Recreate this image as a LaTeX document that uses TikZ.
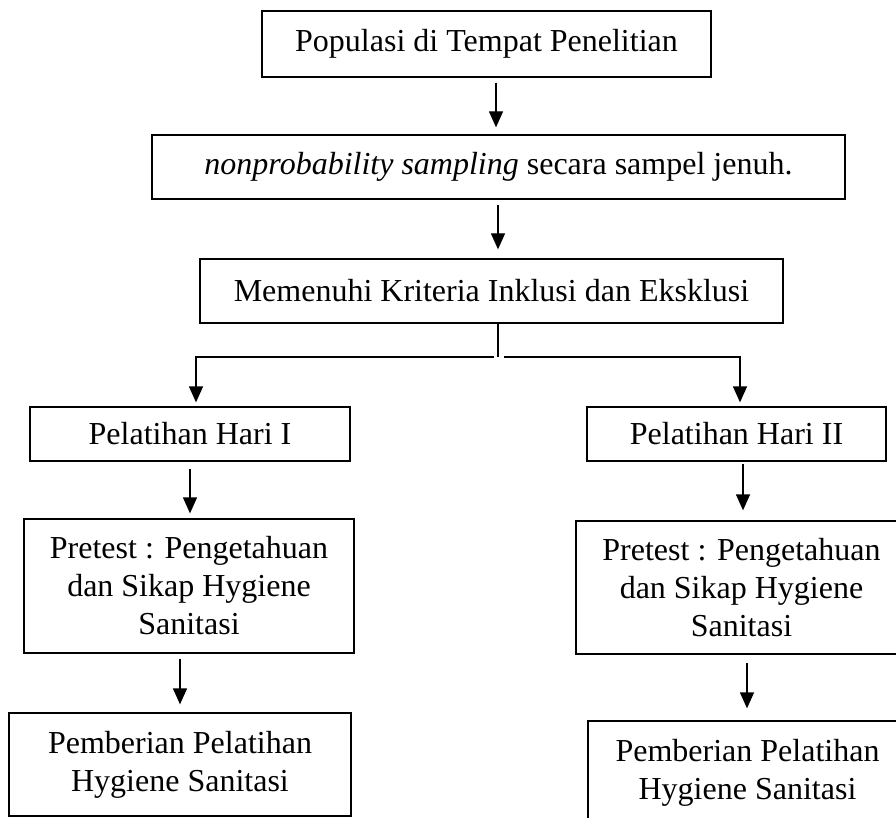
\documentclass[tikz,border=0pt]{standalone}
\usepackage{fontspec}
\setmainfont{Liberation Serif}
\usetikzlibrary{arrows.meta}
\begin{document}
\begin{tikzpicture}[x=1pt,y=-1pt,
  box/.style={draw,line width=1.3pt,inner sep=0pt,align=center,
    font=\fontsize{32}{38}\selectfont},
  arr/.style={line width=1.3pt,-{Triangle[width=14pt,length=16pt]}},
  ln/.style={line width=1.3pt}]
\clip (0,0) rectangle (896,818);
% boxes
\node[box,minimum width=449pt,minimum height=66pt] (b1) at (486.5,44) {Populasi di Tempat Penelitian};
\node[box,minimum width=693pt,minimum height=64pt] (b2) at (498.5,167) {\textit{nonprobability sampling} secara sampel jenuh.};
\node[box,minimum width=583pt,minimum height=64pt] (b3) at (491.5,291) {Memenuhi Kriteria Inklusi dan Eksklusi};
\node[box,minimum width=320pt,minimum height=54pt] (b4) at (190,434) {Pelatihan Hari I};
\node[box,minimum width=299pt,minimum height=54pt] (b5) at (736.5,434) {Pelatihan Hari II};
\node[box,minimum width=330pt,minimum height=134pt] (b6) at (189,586) {Pretest : Pengetahuan\\dan Sikap Hygiene\\Sanitasi};
\node[box,minimum width=331pt,minimum height=133pt] (b7) at (741.5,587.5) {Pretest : Pengetahuan\\dan Sikap Hygiene\\Sanitasi};
\node[box,minimum width=342pt,minimum height=103pt] (b8) at (180,764.5) {Pemberian Pelatihan\\Hygiene Sanitasi};
\node[box,minimum width=319pt,minimum height=103pt] (b9) at (747.5,772.5) {Pemberian Pelatihan\\Hygiene Sanitasi};
% column coordinates
\coordinate (xa) at (496,0);
\coordinate (xb) at (498,0);
\coordinate (j) at (498,357);
\coordinate (jl) at (494,357);
\coordinate (jr) at (504,357);
\coordinate (xl) at (196,0);
\coordinate (xr) at (740,0);
\coordinate (xl2) at (190,0);
\coordinate (xr2) at (743,0);
\coordinate (xl3) at (180,0);
\coordinate (xr3) at (747,0);
% connectors
\draw[arr,shorten <=5pt,shorten >=7pt] (b1.south -| xa) -- (b2.north -| xa);
\draw[arr,shorten <=5pt,shorten >=9pt] (b2.south -| xb) -- (b3.north -| xb);
\draw[ln] (b3.south -| xb) -- (j);
\draw[arr,shorten >=4pt] (jl) -| (b4.north -| xl);
\draw[arr,shorten >=4pt] (jr) -| (b5.north -| xr);
\draw[arr,shorten <=7pt,shorten >=5pt] (b4.south -| xl2) -- (b6.north -| xl2);
\draw[arr,shorten <=2pt,shorten >=10pt] (b5.south -| xr2) -- (b7.north -| xr2);
\draw[arr,shorten <=5pt,shorten >=8pt] (b6.south -| xl3) -- (b8.north -| xl3);
\draw[arr,shorten <=8pt,shorten >=12pt] (b7.south -| xr3) -- (b9.north -| xr3);
\end{tikzpicture}
\end{document}
